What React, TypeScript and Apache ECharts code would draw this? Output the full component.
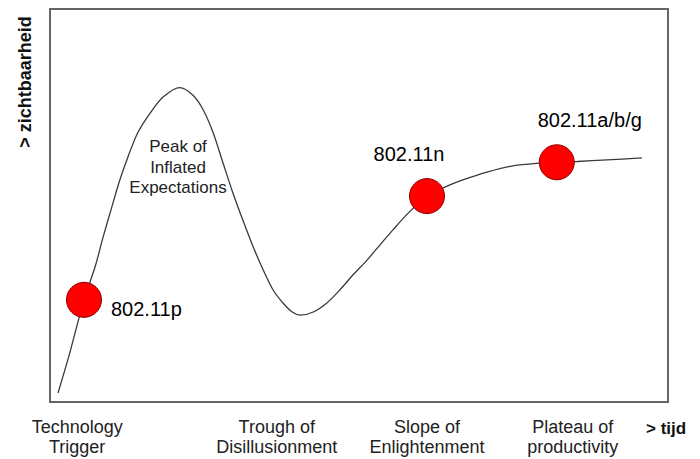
import React, { useEffect, useRef } from "react";
import * as echarts from "echarts";

// Hype-cycle curve: time (x, 0-100) vs visibility (y, 0-100)
const timeX = [1.3, 3.2, 5.5, 7.3, 8.6, 10.0, 11.3, 12.6, 14.2, 16.2, 18.3, 21.0, 23.1, 24.8, 26.4, 28.0, 29.6, 31.2, 32.9, 34.5, 36.1, 37.7, 39.2, 40.5, 42.6, 44.8, 46.9, 49.0, 51.3, 53.4, 55.5, 57.8, 61.0, 63.6, 66.8, 70.7, 74.9, 79.3, 82.0, 85.3, 90.1, 95.8];
const visibility = [2.3, 12.5, 26.0, 34.4, 42.0, 49.6, 56.5, 62.3, 68.5, 73.5, 77.6, 80.0, 78.1, 74.3, 68.5, 60.8, 53.2, 46.3, 39.4, 33.6, 28.5, 25.2, 22.9, 22.1, 22.9, 25.2, 28.5, 32.3, 36.1, 40.0, 43.8, 47.8, 52.4, 54.5, 56.5, 58.5, 60.1, 60.8, 61.0, 61.2, 61.6, 62.1];

// Technologies placed on the curve
const techNames = ["802.11p", "802.11n", "802.11a/b/g"];
const techX = [5.5, 61.0, 82.0];
const techY = [26.0, 52.4, 61.0];

// Phase labels along the time axis
const phaseX = [4.4, 36.7, 61.0, 84.6];
const phaseLabels = [
  "Technology\nTrigger",
  "Trough of\nDisillusionment",
  "Slope of\nEnlightenment",
  "Plateau of\nproductivity",
];

const peakLabel = "Peak of\nInflated\nExpectations";
const xName = "> tijd";
const yName = "> zichtbaarheid";

const FONT = "'Liberation Sans', Arial, sans-serif";

export default function App() {
  const ref = useRef<HTMLDivElement>(null);
  useEffect(() => {
    if (!ref.current) return;
    const chart = echarts.init(ref.current, null, { renderer: "svg" });
    const labelOffsets: Record<string, any> = {
      "802.11p": { position: "right", distance: 9, offset: [0, 9] },
      "802.11n": { position: "top", distance: 5, offset: [-18, -9] },
      "802.11a/b/g": { position: "top", distance: 5, offset: [33, -9] },
    };
    chart.setOption({
      animation: false,
      backgroundColor: "#ffffff",
      textStyle: { fontFamily: FONT },
      grid: {
        left: 50,
        top: 9,
        right: 32,
        bottom: 57,
        show: true,
        borderColor: "#666666",
        borderWidth: 2,
        backgroundColor: "#ffffff",
      },
      xAxis: {
        type: "value",
        min: 0,
        max: 100,
        axisLine: { show: false },
        axisTick: { show: false },
        splitLine: { show: false },
        axisLabel: {
          customValues: phaseX,
          margin: 15,
          fontSize: 18,
          lineHeight: 20,
          color: "#222222",
          fontFamily: FONT,
          formatter: (v: number) => {
            const i = phaseX.findIndex((p) => Math.abs(p - v) < 0.01);
            return i >= 0 ? phaseLabels[i] : "";
          },
        },
      },
      yAxis: {
        type: "value",
        min: 0,
        max: 100,
        axisLine: { show: false },
        axisTick: { show: false },
        splitLine: { show: false },
        axisLabel: { show: false },
      },
      series: [
        {
          type: "line",
          smooth: 0.3,
          symbol: "none",
          data: timeX.map((x, i) => [x, visibility[i]]),
          lineStyle: { color: "#3a3a3a", width: 1.3 },
          z: 2,
        },
        {
          type: "scatter",
          symbol: "circle",
          symbolSize: 35,
          data: techNames.map((n, i) => ({
            name: n,
            value: [techX[i], techY[i]],
            label: {
              show: true,
              formatter: n,
              ...labelOffsets[n],
            },
          })),
          itemStyle: { color: "#ff0000", borderColor: "#8a0000", borderWidth: 1, opacity: 1 },
          label: { fontSize: 20, color: "#000000", fontFamily: FONT },
          z: 3,
        },
      ],
      graphic: [
        {
          type: "text",
          x: 178,
          y: 167,
          style: {
            text: peakLabel,
            fontSize: 17,
            lineHeight: 20.5,
            fill: "#222222",
            fontFamily: FONT,
            align: "center",
            verticalAlign: "middle",
          },
        },
        {
          type: "text",
          x: 646,
          y: 428,
          style: {
            text: xName,
            fontSize: 17,
            fontWeight: "bold",
            fill: "#111111",
            fontFamily: FONT,
            align: "left",
            verticalAlign: "middle",
          },
        },
        {
          type: "text",
          x: 25,
          y: 82,
          rotation: Math.PI / 2,
          style: {
            text: yName,
            fontSize: 18,
            fontWeight: "bold",
            fill: "#111111",
            fontFamily: FONT,
            align: "center",
            verticalAlign: "middle",
          },
        },
      ],
    });
    return () => chart.dispose();
  }, []);
  return (
    <div
      ref={ref}
      style={{ position: "absolute", left: 0, top: 0, width: 700, height: 459 }}
    />
  );
}
